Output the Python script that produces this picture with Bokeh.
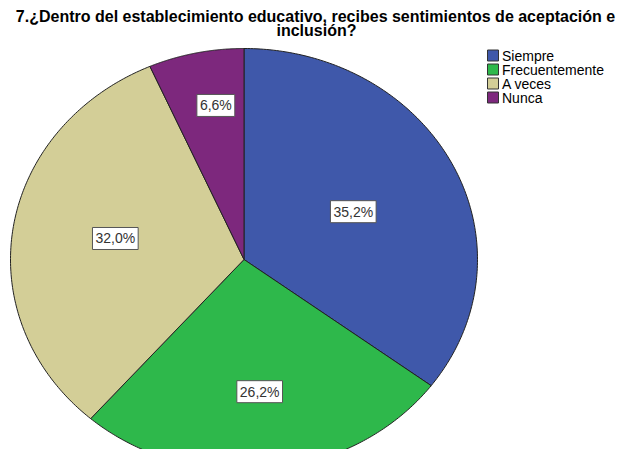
import numpy as np
from bokeh.plotting import figure
from bokeh.models import ColumnDataSource, Range1d
from bokeh.core.properties import value
from bokeh.embed import file_html
from bokeh.resources import INLINE

# ---- data ----
title_lines = ["7.¿Dentro del establecimiento educativo, recibes sentimientos de aceptación e",
               "inclusión?"]
categories = ["Siempre", "Frecuentemente", "A veces", "Nunca"]
percents = [35.2, 26.2, 32.0, 6.6]
colors = ["#3F58AA", "#2EB84B", "#D3CE97", "#7D287D"]

# ---- layout (screen-like coordinates, y downward) ----
W, H = 620, 449
CX, CY, RX, RY = 243.5, 259, 233.5, 211
label_r = [0.52, 0.63, 0.56, 0.74]
label_da = [0.8, 0.0, 1.6, 2.5]  # small angular nudges (degrees) for label placement

p = figure(width=W, height=H, output_backend="svg", toolbar_location=None,
           x_range=Range1d(0, W), y_range=Range1d(H, 0),
           min_border=0, outline_line_color=None)
p.axis.visible = False
p.grid.visible = False

total = sum(percents)
xs, ys, lx, ly, ltxt = [], [], [], [], []
start = 0.0
for i, v in enumerate(percents):
    a0 = start / total * 2 * np.pi
    a1 = (start + v) / total * 2 * np.pi
    t = np.linspace(a0, a1, 160)
    px = [CX] + list(CX + RX * np.sin(t)) + [CX]
    py = [CY] + list(CY - RY * np.cos(t)) + [CY]
    xs.append(px)
    ys.append(py)
    am = (a0 + a1) / 2 + np.radians(label_da[i])
    lx.append(CX + label_r[i] * RX * np.sin(am))
    ly.append(CY - label_r[i] * RY * np.cos(am))
    ltxt.append(f"{v:.1f}".replace(".", ",") + "%")
    start += v

src = ColumnDataSource(dict(xs=xs, ys=ys, color=colors, cat=categories))
p.patches("xs", "ys", source=src, fill_color="color", line_color="#222222", line_width=1)

lsrc = ColumnDataSource(dict(x=lx, y=ly, t=ltxt))
p.text("x", "y", text="t", source=lsrc, text_font=value("Liberation Sans"),
       text_font_size="14px", text_color="#333333", text_align="center",
       text_baseline="middle", background_fill_color="white",
       border_line_color="#555555", border_line_width=1, padding=(3, 3))

# title
p.text(x=[315, 316], y=[15.5, 29.5], text=title_lines, text_font=value("Liberation Sans"),
       text_font_style="bold", text_font_size="16px", text_color="black",
       text_align="center", text_baseline="middle")

# legend
leg_y = [55 + 14 * i for i in range(len(categories))]
p.rect(x=[492.5] * len(categories), y=leg_y, width=11, height=11,
       width_units="screen", height_units="screen",
       fill_color=colors, line_color="#333333", line_width=1)
p.text(x=[501.5] * len(categories), y=leg_y, text=categories,
       text_font=value("Liberation Sans"), text_font_size="14px",
       text_color="black", text_align="left", text_baseline="middle")

open("out.html", "w").write(file_html(p, INLINE))
